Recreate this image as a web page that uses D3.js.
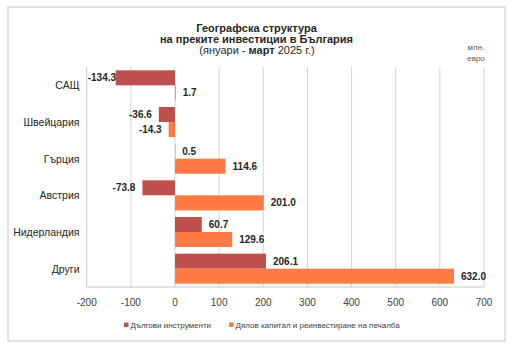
<!DOCTYPE html>
<html>
<head>
<meta charset="utf-8">
<script src="https://cdn.jsdelivr.net/npm/d3@7"></script>
<style>
  body { margin: 0; background: #fff; }
  svg { display: block; font-family: Arial, "Liberation Sans", sans-serif; }
</style>
</head>
<body>
<svg id="chart" width="519" height="348"></svg>
<script>
// Countries and the two kinds of direct investment (mln. euro)
const countries = ["САЩ", "Швейцария", "Гърция", "Австрия", "Нидерландия", "Други"];
const debtValues = [-134.3, -36.6, 0.5, -73.8, 60.7, 206.1];
const equityValues = [1.7, -14.3, 114.6, 201.0, 129.6, 632.0];
const seriesNames = ["Дългови инструменти", "Дялов капитал и реинвестиране на печалба"];
const xTicks = [-200, -100, 0, 100, 200, 300, 400, 500, 600, 700];

const colors = ["#c0504d", "#ff7a45"];

const svg = d3.select("#chart");

// outer frame
svg.append("rect")
    .attr("x", 8).attr("y", 7)
    .attr("width", 497).attr("height", 334)
    .attr("fill", "none")
    .attr("stroke", "#e3e3e3")
    .attr("stroke-width", 2);

const plot = { left: 86.7, right: 484, top: 67, bottom: 287 };

const x = d3.scaleLinear().domain([-200, 700]).range([plot.left, plot.right]);
const y = d3.scaleBand().domain(countries).range([plot.top, plot.bottom])
    .paddingInner(0.18).paddingOuter(0.09);
const sub = d3.scaleBand().domain([0, 1]).range([0, y.bandwidth()]);

// title
const title = svg.append("g").attr("text-anchor", "middle").attr("fill", "#262626");
title.append("text").attr("x", 256.5).attr("y", 31.5)
    .attr("font-size", 11).attr("font-weight", "bold").text("Географска структура");
title.append("text").attr("x", 256.5).attr("y", 42.5)
    .attr("font-size", 11).attr("font-weight", "bold").text("на преките инвестиции в България");
const sub3 = title.append("text").attr("x", 257).attr("y", 54).attr("font-size", 11);
sub3.append("tspan").text("(януари - ");
sub3.append("tspan").attr("font-weight", "bold").text("март");
sub3.append("tspan").text(" 2025 г.)");

// units
svg.append("g").attr("text-anchor", "middle").attr("fill", "#595959").attr("font-size", 8)
    .selectAll("text").data(["млн.", "евро"]).join("text")
    .attr("x", 476).attr("y", (d, i) => 49.5 + i * 11).text(d => d);

// vertical gridlines
svg.append("g")
    .selectAll("line").data(xTicks.slice(1)).join("line")
    .attr("x1", d => x(d)).attr("x2", d => x(d))
    .attr("y1", plot.top).attr("y2", plot.bottom)
    .attr("stroke", "#d4d4d4").attr("stroke-width", 1);

// axis lines
svg.append("line")
    .attr("x1", plot.left).attr("x2", plot.left)
    .attr("y1", plot.top).attr("y2", plot.bottom)
    .attr("stroke", "#c8c8c8");
svg.append("line")
    .attr("x1", plot.left).attr("x2", plot.right)
    .attr("y1", plot.bottom).attr("y2", plot.bottom)
    .attr("stroke", "#c8c8c8");

// x tick labels
svg.append("g").attr("text-anchor", "middle").attr("font-size", 10).attr("fill", "#404040")
    .selectAll("text").data(xTicks).join("text")
    .attr("x", d => x(d)).attr("y", 305.5).text(d => d);

// category labels
svg.append("g").attr("text-anchor", "end").attr("font-size", 10.5).attr("fill", "#262626")
    .selectAll("text").data(countries).join("text")
    .attr("x", 79.5).attr("y", d => y(d) + y.bandwidth() / 2 + 4).text(d => d);

// bars
const rows = countries.flatMap((c, i) => [
    { country: c, s: 0, value: debtValues[i] },
    { country: c, s: 1, value: equityValues[i] }
]);

svg.append("g")
    .selectAll("rect").data(rows).join("rect")
    .attr("x", d => x(Math.min(0, d.value)))
    .attr("width", d => Math.abs(x(d.value) - x(0)))
    .attr("y", d => y(d.country) + sub(d.s))
    .attr("height", sub.bandwidth())
    .attr("fill", d => colors[d.s]);

// value labels (plain hyphen for the minus sign)
const fmt = d3.formatLocale({ decimal: ".", thousands: ",", grouping: [3], currency: ["", ""], minus: "-" }).format(".1f");
const labels = svg.append("g").attr("font-size", 10).attr("font-weight", "bold").attr("fill", "#262626");
labels.selectAll("text").data(rows).join("text")
    .attr("y", d => y(d.country) + sub(d.s) + sub.bandwidth() / 2 + 3.5)
    .attr("x", d => d.value >= 0 ? x(d.value) + 7 : x(d.value) - 7)
    .attr("text-anchor", d => d.value >= 0 ? "start" : "end")
    .text(d => fmt(d.value))
    .each(function (d) {
        // keep negative labels inside the plot area
        if (d.value < 0) {
            const w = this.getComputedTextLength();
            const xx = +this.getAttribute("x");
            if (xx - w < plot.left + 1) this.setAttribute("x", plot.left + 1 + w);
        }
    });

// legend
const legend = svg.append("g").attr("font-size", 8).attr("fill", "#404040");
const legendX = [124, 229];
seriesNames.forEach((name, i) => {
    legend.append("rect")
        .attr("x", legendX[i]).attr("y", 322.5)
        .attr("width", 4.5).attr("height", 4.5)
        .attr("fill", colors[i]);
    legend.append("text")
        .attr("x", legendX[i] + 6.5).attr("y", 328)
        .text(name);
});
</script>
</body>
</html>
